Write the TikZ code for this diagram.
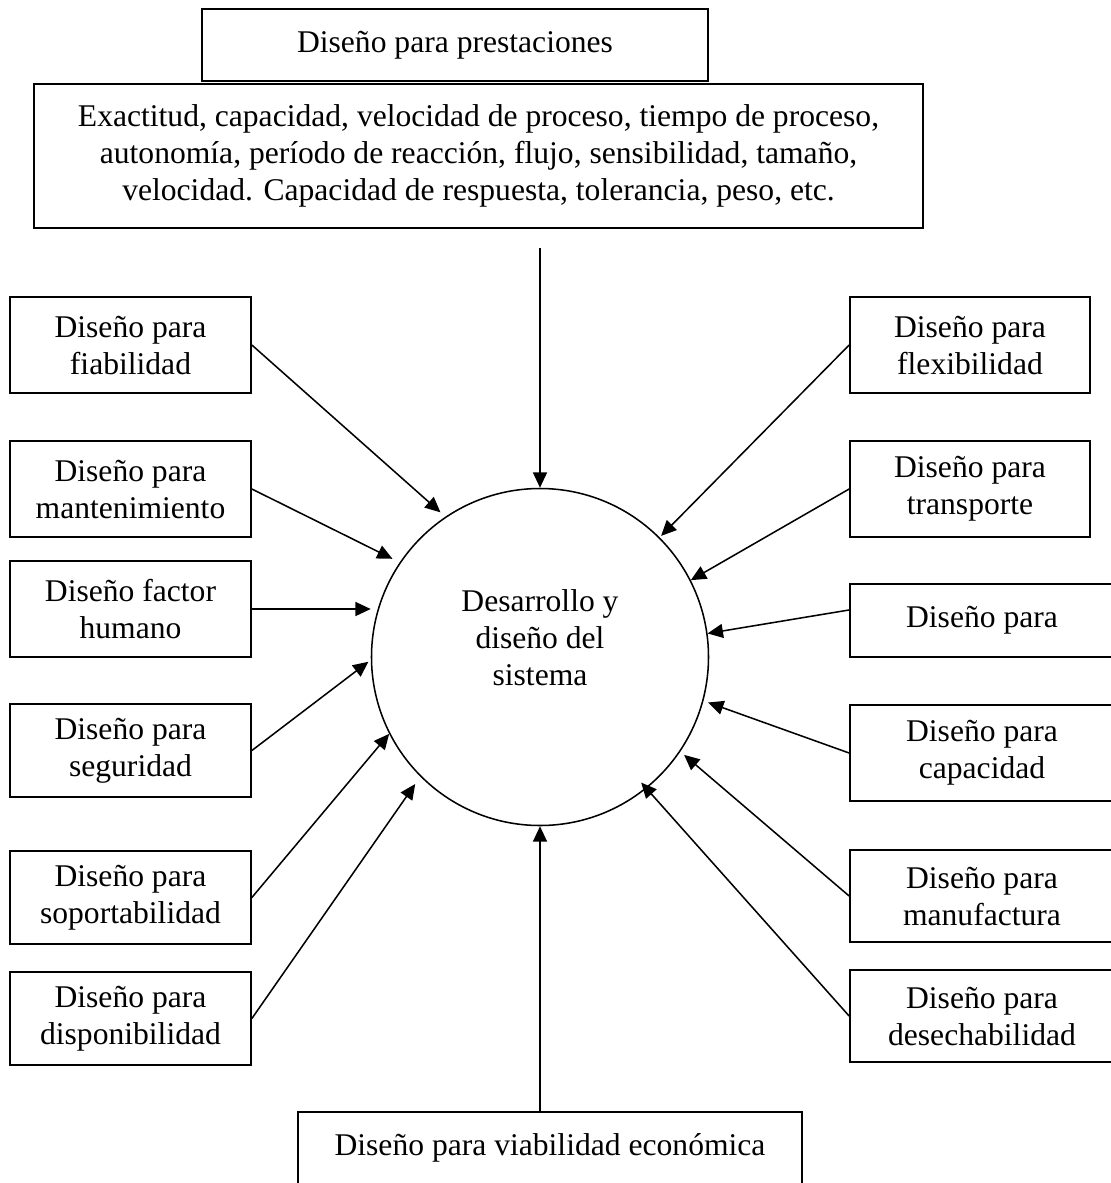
\documentclass[tikz,border=0pt]{standalone}
\usepackage{fontspec}
\setmainfont{Liberation Serif}
\usetikzlibrary{arrows.meta,calc}
\begin{document}
\begin{tikzpicture}[x=0.75pt,y=0.75pt,
  txt/.style={font=\fontsize{23.7pt}{27.75pt}\selectfont, align=center},
  pxbox/.style 2 args={txt, draw, line width=1.3pt, rectangle, inner sep=0pt,
    minimum width=#1*0.75pt, minimum height=#2*0.75pt},
  arr/.style={line width=1.15pt, -{Triangle[length=11.5pt,width=10.5pt]}}
]
\useasboundingbox (0,0) rectangle (1111,-1183);
\clip (0,0) rectangle (1111,-1183);

% top
\node[pxbox={506}{72}] (prest) at (455,-45) {Diseño para prestaciones};
\node[pxbox={889}{144}] (desc) at (478.5,-156) {Exactitud, capacidad, velocidad de proceso, tiempo de proceso,\\autonomía, período de reacción, flujo, sensibilidad, tamaño,\\velocidad. Capacidad de respuesta, tolerancia, peso, etc.};
\coordinate (topstart) at (540,-248);

% centre
\node[draw, circle, line width=1.15pt, minimum size=337*0.75pt, inner sep=0pt, txt] (circ) at (540,-657)
  {\raisebox{6pt}[0pt][0pt]{\begin{tabular}{@{}c@{}}Desarrollo y\\diseño del\\sistema\end{tabular}}};

% left
\node[pxbox={241}{96}] (fiab) at (130.5,-345) {Diseño para\\fiabilidad};
\node[pxbox={241}{96}] (mant) at (130.5,-489) {Diseño para\\mantenimiento};
\node[pxbox={241}{96}] (fh) at (130.5,-609) {Diseño factor\\humano};
\node[pxbox={241}{93}] (seg) at (130.5,-750.5) {Diseño para\\seguridad};
\node[pxbox={241}{93}] (soport) at (130.5,-897.5) {Diseño para\\soportabilidad};
\node[pxbox={241}{93}] (dispon) at (130.5,-1018.5) {Diseño para\\disponibilidad};

% right
\node[pxbox={240}{96}] (flex) at (970,-345) {Diseño para\\flexibilidad};
\node[pxbox={240}{96}] (transp) at (970,-489) {Diseño para\\transporte};
\node[pxbox={264}{73}] (dp) at (982,-620.5) {Diseño para};
\node[pxbox={264}{96}] (cap) at (982,-753) {Diseño para\\capacidad};
\node[pxbox={264}{92}] (manu) at (982,-896) {Diseño para\\manufactura};
\node[pxbox={264}{92}] (desech) at (982,-1016) {Diseño para\\desechabilidad};

% bottom
\node[pxbox={504}{72}] (bot) at (550,-1148) {Diseño para viabilidad económica};

% connectors
\draw[arr] (topstart) -- (circ.north);
\draw[arr] (circ.south |- bot.north) -- (circ.south);

\draw[arr, shorten >=4.9pt] (fiab.east) -- (circ.124);
\draw[arr, shorten >=6pt] (mant.east) -- (circ.146.3);
\draw[arr] (fh.east) -- (circ.west |- fh.east);
\draw[arr, shorten >=2.2pt] (seg.east) -- (circ.181);
\draw[arr] (soport.east) -- (circ.207.3);
\draw[arr, shorten >=6.7pt] (dispon.east) -- (circ.225.5);

\draw[arr, shorten >=1.5pt] (flex.west) -- (circ.45.7);
\draw[arr] (transp.west) -- (circ.27);
\draw[arr] ([yshift=7.9pt]dp.west) -- (circ.8.5);
\draw[arr, shorten >=3.7pt] (cap.west) -- (circ.-15.7);
\draw[arr, shorten >=3.7pt] (manu.west) -- (circ.-34);
\draw[arr, shorten >=-6pt] (desech.west) -- (circ.-51.4);
\end{tikzpicture}
\end{document}
